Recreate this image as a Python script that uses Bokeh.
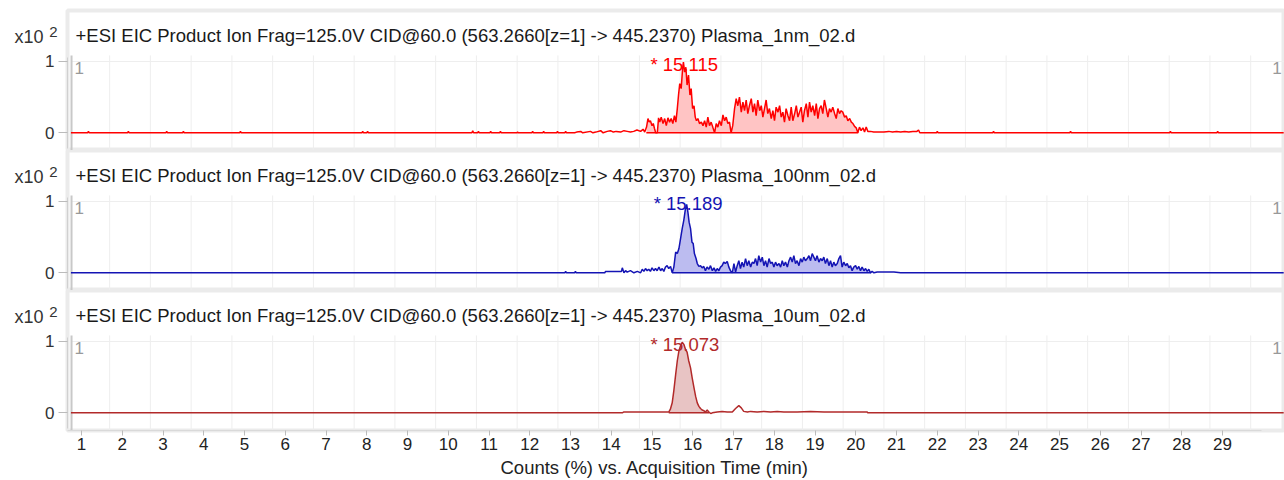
from bokeh.plotting import figure
from bokeh.layouts import column
from bokeh.models import Range1d, FixedTicker, Label, Title, LinearAxis
from bokeh.embed import file_html
from bokeh.resources import INLINE

FONT = "Liberation Sans"

# ---------------- data ----------------
x_ticks = [1, 2, 3, 4, 5, 6, 7, 8, 9, 10, 11, 12, 13, 14, 15, 16, 17, 18, 19, 20,
           21, 22, 23, 24, 25, 26, 27, 28, 29]
x_tick_labels = [str(k) for k in x_ticks]
y_ticks = [0, 1]

titles = [
    "+ESI EIC Product Ion Frag=125.0V CID@60.0 (563.2660[z=1] -> 445.2370) Plasma_1nm_02.d",
    "+ESI EIC Product Ion Frag=125.0V CID@60.0 (563.2660[z=1] -> 445.2370) Plasma_100nm_02.d",
    "+ESI EIC Product Ion Frag=125.0V CID@60.0 (563.2660[z=1] -> 445.2370) Plasma_10um_02.d",
]
peak_labels = ["* 15.115", "* 15.189", "* 15.073"]
x_label = "Counts (%) vs. Acquisition Time (min)"
scale_text = "x10"
scale_exp = "2"

# trace 1 (Plasma_1nm)
t1 = [0.74, 1.15, 1.17, 1.19, 2.13, 2.15, 2.17, 3.07, 3.09, 3.11,
      3.48, 3.50, 3.52, 4.88, 4.90, 4.92, 7.88, 7.90, 7.92, 8.00,
      8.02, 8.04, 10.58, 10.60, 10.62, 10.72, 10.74, 10.76, 11.02, 11.04,
      11.06, 11.26, 11.28, 11.30, 11.68, 11.70, 11.72, 12.05, 12.07, 12.09,
      12.32, 12.34, 12.36, 12.66, 12.68, 12.70, 12.86, 12.88, 12.90, 13.10,
      13.15, 13.25, 13.30, 13.49, 13.55, 13.62, 13.74, 13.80, 13.90, 13.98,
      14.05, 14.12, 14.23, 14.31, 14.39, 14.47, 14.55, 14.63, 14.72, 14.78,
      14.82,
      14.865, 14.90, 14.93, 14.96, 15.00, 15.03, 15.06, 15.09, 15.13, 15.16,
      15.19, 15.225, 15.27, 15.31, 15.35, 15.39, 15.43, 15.47, 15.51, 15.55,
      15.585, 15.62, 15.65, 15.68, 15.715, 15.75, 15.77, 15.80, 15.83, 15.86,
      15.895, 15.93, 15.96, 15.995, 16.03, 16.06, 16.09, 16.125, 16.165, 16.21,
      16.25, 16.29, 16.33, 16.37, 16.41, 16.45, 16.49, 16.535, 16.575, 16.615,
      16.655, 16.70, 16.74, 16.78, 16.82, 16.86, 16.90, 16.94, 16.98, 17.025,
      17.065, 17.105, 17.145, 17.19, 17.23, 17.27, 17.31, 17.35, 17.39, 17.435,
      17.475, 17.515, 17.555, 17.595, 17.64, 17.68, 17.72, 17.76, 17.80, 17.84,
      17.88, 17.925, 17.965, 18.005, 18.045, 18.09, 18.13, 18.17, 18.21, 18.25,
      18.29, 18.335, 18.375, 18.415, 18.455, 18.50, 18.54, 18.58, 18.62, 18.66,
      18.70, 18.74, 18.785, 18.825, 18.865, 18.905, 18.945, 18.99, 19.03, 19.07,
      19.11, 19.15, 19.19, 19.23, 19.275, 19.315, 19.355, 19.395, 19.435, 19.48,
      19.52, 19.56, 19.60, 19.64, 19.68, 19.725, 19.765, 19.805, 19.85, 19.89,
      19.93, 19.97, 20.01, 20.05, 20.09, 20.13, 20.175, 20.215, 20.255, 20.295,
      20.36, 20.44, 20.57, 20.69, 20.81,
      20.90, 21.00, 21.10, 21.20, 21.30, 21.40, 21.50, 21.54, 21.57, 21.98,
      22.00, 22.02, 23.36, 23.38, 23.40, 25.25, 25.27, 25.29, 27.70, 27.72,
      27.74, 28.86, 28.88, 28.90, 30.50]
v1 = [0, 0, 0.02, 0, 0, 0.02, 0, 0, 0.02, 0,
      0, 0.02, 0, 0, 0.02, 0, 0, 0.02, 0, 0,
      0.02, 0, 0, 0.03, 0, 0, 0.02, 0, 0, 0.02,
      0, 0, 0.02, 0, 0, 0.01, 0, 0, 0.02, 0,
      0, 0.02, 0, 0, 0.02, 0, 0, 0.02, 0, 0,
      0.01, 0.02, 0, 0.02, 0, 0.01, 0.03, 0, 0.02, 0.03,
      0.01, 0.02, 0.01, 0.03, 0.02, 0.01, 0.02, 0.04, 0.02, 0.05,
      0.01,
      0.08, 0.20, 0.15, 0.17, 0.10, 0.13, 0.06, 0.0, 0.0, 0.21,
      0.15, 0.22, 0.13, 0.20, 0.10, 0.21, 0.15, 0.20, 0.13, 0.24,
      0.15, 0.34, 0.53, 0.69, 0.62, 0.90, 0.99, 0.85, 0.92, 0.67,
      0.81, 0.53, 0.62, 0.34, 0.38, 0.22, 0.17, 0.20, 0.13, 0.15,
      0.10, 0.17, 0.08, 0.22, 0.10, 0.15, 0.08, 0.0, 0.13, 0.08,
      0.17, 0.10, 0.25, 0.17, 0.22, 0.13, 0.15, 0.0, 0.10, 0.34,
      0.48, 0.38, 0.50, 0.29, 0.43, 0.31, 0.46, 0.27, 0.38, 0.48,
      0.29, 0.41, 0.24, 0.46, 0.31, 0.38, 0.22, 0.34, 0.46, 0.27,
      0.34, 0.20, 0.31, 0.17, 0.36, 0.29, 0.38, 0.22, 0.29, 0.15,
      0.34, 0.24, 0.17, 0.36, 0.17, 0.27, 0.38, 0.22, 0.29, 0.36,
      0.15, 0.31, 0.41, 0.22, 0.43, 0.29, 0.38, 0.24, 0.41, 0.20,
      0.34, 0.38, 0.27, 0.46, 0.34, 0.22, 0.34, 0.29, 0.36, 0.27,
      0.20, 0.34, 0.27, 0.31, 0.29, 0.22, 0.24, 0.17, 0.20, 0.15,
      0.13, 0.09, 0.07, 0.0, 0.08, 0.03, 0.07, 0.01, 0.08, 0.02,
      0.02, 0.01, 0.01, 0.01, 0.02,
      0.01, 0.02, 0.01, 0.02, 0.01, 0.02, 0.02, 0.04, 0, 0,
      0.02, 0, 0, 0.02, 0, 0, 0.02, 0, 0, 0.02,
      0, 0, 0.02, 0, 0]

# trace 2 (Plasma_100nm)
t2 = [0.74, 12.86, 12.88, 12.90, 13.10, 13.12, 13.14, 13.84, 13.86, 14.25,
      14.27, 14.31, 14.35, 14.39, 14.47, 14.555, 14.64, 14.72, 14.76, 14.80,
      14.84, 14.88, 14.92, 14.96, 15.00, 15.045, 15.085, 15.125, 15.17, 15.21,
      15.25, 15.29, 15.33, 15.37, 15.41, 15.455, 15.495, 15.535, 15.58, 15.62,
      15.66, 15.70, 15.74, 15.78, 15.815, 15.85, 15.88, 15.91, 15.945, 15.98,
      16.01, 16.04, 16.08, 16.11, 16.15, 16.19,
      16.23, 16.27, 16.31, 16.35, 16.395, 16.435, 16.48, 16.52, 16.56, 16.60,
      16.64, 16.68, 16.72, 16.76, 16.80, 16.845, 16.885, 16.925, 16.97, 17.01,
      17.05, 17.09, 17.13, 17.17, 17.21, 17.25, 17.295, 17.335, 17.375, 17.42,
      17.46, 17.50, 17.54, 17.58, 17.62, 17.665, 17.705, 17.745, 17.785, 17.825,
      17.87, 17.91, 17.95, 17.99, 18.03, 18.07, 18.115, 18.155, 18.195, 18.235,
      18.275, 18.32, 18.36, 18.40, 18.44, 18.48, 18.52, 18.56, 18.605, 18.645,
      18.685, 18.725, 18.765, 18.81, 18.85, 18.89, 18.93, 18.97, 19.01, 19.05,
      19.095, 19.135, 19.175, 19.215, 19.255, 19.30, 19.34, 19.38, 19.42, 19.46,
      19.50, 19.545, 19.585, 19.625, 19.665, 19.705, 19.75, 19.79, 19.83, 19.87,
      19.91, 19.95, 19.995, 20.035, 20.075, 20.115, 20.155, 20.20, 20.24, 20.28,
      20.32, 20.36, 20.40, 20.445, 20.525, 20.935, 21.10, 30.50]
v2 = [0, 0, 0.02, 0, 0, 0.02, 0, 0, 0.02, 0.02,
      0.07, 0, 0.03, 0.01, 0.03, 0, 0.02, 0, 0.05, 0.02,
      0.06, 0.03, 0.05, 0.02, 0.07, 0.03, 0.06, 0.03, 0.08, 0.03,
      0.06, 0.02, 0.08, 0.10, 0.06, 0.09, 0.0, 0.08, 0.29, 0.27,
      0.34, 0.48, 0.62, 0.74, 0.88, 0.96, 0.85, 0.71, 0.62, 0.43,
      0.41, 0.27, 0.20, 0.13, 0.09, 0.10,
      0.07, 0.09, 0.03, 0.08, 0.05, 0.10, 0.03, 0.07, 0.02, 0.06,
      0.03, 0.08, 0.10, 0.15, 0.13, 0.16, 0.08, 0.03, 0.0, 0.13,
      0.01, 0.10, 0.17, 0.06, 0.15, 0.08, 0.20, 0.10, 0.17, 0.08,
      0.15, 0.13, 0.20, 0.10, 0.24, 0.15, 0.22, 0.10, 0.17, 0.08,
      0.20, 0.13, 0.15, 0.08, 0.15, 0.10, 0.13, 0.08, 0.17, 0.10,
      0.15, 0.08, 0.17, 0.22, 0.15, 0.24, 0.13, 0.17, 0.10, 0.20,
      0.15, 0.22, 0.17, 0.20, 0.24, 0.17, 0.27, 0.22, 0.17, 0.24,
      0.15, 0.20, 0.17, 0.22, 0.13, 0.20, 0.10, 0.17, 0.08, 0.15,
      0.10, 0.13, 0.20, 0.24, 0.08, 0.15, 0.10, 0.13, 0.07, 0.10,
      0.03, 0.08, 0.10, 0.05, 0.09, 0.03, 0.08, 0.03, 0.06, 0.02,
      0.05, 0.0, 0.02, 0.0, 0.01, 0.01, 0.0, 0]

# trace 3 (Plasma_10um)
t3 = [0.74, 14.27, 14.30, 15.41, 15.45, 15.495, 15.535, 15.58, 15.62, 15.66,
      15.70, 15.74, 15.78, 15.82, 15.86, 15.90, 15.945, 15.985, 16.03, 16.07,
      16.11, 16.15, 16.19, 16.23, 16.27, 16.31, 16.355, 16.395, 16.44, 16.48,
      16.60, 16.72, 16.845, 16.97, 17.05, 17.13, 17.19, 17.25, 17.34, 17.42,
      17.58, 17.745, 17.91, 18.07, 18.235, 18.56, 18.89, 19.22, 19.71, 20.28,
      20.30, 30.50]
v3 = [0, 0, 0.01, 0.01, 0.05, 0.14, 0.31, 0.54, 0.73, 0.87,
      0.94, 0.99, 0.96, 0.89, 0.85, 0.73, 0.63, 0.49, 0.35, 0.23,
      0.14, 0.09, 0.06, 0.04, 0.03, 0.01, 0.04, 0.01, -0.01, 0.0,
      0.01, 0.02, 0.01, 0.01, 0.06, 0.10, 0.07, 0.02, 0.01, 0.02,
      0.01, 0.02, 0.01, 0.02, 0.01, 0.01, 0.02, 0.01, 0.01, 0.01,
      0, 0]

# integrated (filled) peak windows
fill_windows = [(14.86, 20.06), (15.49, 20.37), (15.41, 16.40)]

traces = [(t1, v1), (t2, v2), (t3, v3)]
line_colors = ["#ff0000", "#1414b4", "#b22a2a"]
fill_colors = ["#ffc4c4", "#bcbcf0", "#e8c4c4"]

# ---------------- layout constants ----------------
X0, X1 = 0.656, 30.52
FRAME_W = 1217
grid_x = [1.69, 2.69, 3.69, 4.69, 5.69, 6.69, 7.69, 8.69, 9.69, 10.69,
          11.69, 12.69, 13.69, 14.69, 15.69, 16.69, 17.69, 18.69, 19.69, 20.69,
          21.69, 22.69, 23.69, 24.69, 25.69, 26.69, 27.69, 28.69, 29.69]
peak_label_x = [14.96, 15.04, 14.96]
peak_label_y = [0.96, 0.97, 0.955]


def hidden_line_axis(tick, label, standoff, size):
    ax = LinearAxis(ticker=FixedTicker(ticks=[tick]),
                    major_label_overrides={tick: label},
                    major_tick_out=0, major_tick_in=0,
                    minor_tick_out=0, minor_tick_in=0,
                    axis_line_color=None, major_tick_line_color=None,
                    minor_tick_line_color=None,
                    major_label_standoff=standoff,
                    major_label_text_font=FONT,
                    major_label_text_font_size=size,
                    major_label_text_color="#333333")
    return ax


figs = []
for i in range(3):
    last = (i == 2)
    p = figure(frame_width=FRAME_W, frame_height=140,
               x_range=Range1d(X0, X1), y_range=Range1d(-0.248, 1.715),
               output_backend="svg", toolbar_location=None, title=None,
               x_axis_location="below" if last else None,
               min_border_left=67, min_border_right=0,
               min_border_top=10 if i == 0 else 0,
               min_border_bottom=50 if last else 0,
               background_fill_color="white", border_fill_color="white")
    p.xgrid.visible = False
    p.ygrid.visible = False
    p.outline_line_color = "#ebebeb"
    p.outline_line_width = 4

    # grid-like guides
    n = len(grid_x)
    p.segment(x0=grid_x, y0=[-0.4] * n, x1=grid_x, y1=[1.085] * n,
              line_color="#eeeeee", line_width=1)
    p.segment(x0=[0.755], y0=[1], x1=[31], y1=[1], line_color="#eeeeee", line_width=1)
    p.segment(x0=[0.755], y0=[-0.4], x1=[0.755], y1=[1.085], line_color="#c8c8c8", line_width=2)

    # y axis
    ya = p.yaxis[0]
    ya.ticker = FixedTicker(ticks=y_ticks)
    ya.major_label_text_font = FONT
    ya.major_label_text_font_size = "17px"
    ya.major_label_text_color = "#333333"
    ya.major_tick_out = 9
    ya.major_tick_in = 0
    ya.minor_tick_line_color = None
    ya.axis_line_color = "#d0d0d0"
    ya.major_tick_line_color = "#bbbbbb"
    ya.major_label_standoff = 4
    ya.bounds = (-0.22, 1.06)
    # scale factor "x10 2" shown as extra unlined axes
    p.add_layout(hidden_line_axis(1.42, scale_exp, -15, "15px"), "left")
    p.add_layout(hidden_line_axis(1.337, scale_text, -1, "18px"), "left")

    t, v = traces[i]
    lo, hi = fill_windows[i]
    ft = [a for a, b in zip(t, v) if lo <= a <= hi]
    fv = [max(b, 0) for a, b in zip(t, v) if lo <= a <= hi]
    p.varea(x=ft, y1=[0] * len(ft), y2=fv, fill_color=fill_colors[i])
    p.line(x=t, y=v, line_color=line_colors[i], line_width=1.5)
    p.line(x=[lo, hi], y=[0, 0], line_color=line_colors[i], line_width=1.5)

    # texts
    p.add_layout(Label(x=0.853, y=1.37, text=titles[i], text_font=FONT,
                       text_font_size="18.5px", text_color="#1a1a1a", text_baseline="middle"))
    p.add_layout(Label(x=0.83, y=0.915, text="1", text_font=FONT,
                       text_font_size="17px", text_color="#999999", text_baseline="middle"))
    p.add_layout(Label(x=30.22, y=0.915, text="1", text_font=FONT,
                       text_font_size="17px", text_color="#999999", text_baseline="middle"))
    p.add_layout(Label(x=peak_label_x[i], y=peak_label_y[i], text=peak_labels[i], text_font=FONT,
                       text_font_size="18.5px", text_color=line_colors[i], text_baseline="middle"))

    if last:
        xa = p.xaxis[0]
        xa.ticker = FixedTicker(ticks=x_ticks)
        xa.major_label_overrides = {k: s for k, s in zip(x_ticks, x_tick_labels)}
        xa.major_label_text_font = FONT
        xa.major_label_text_font_size = "17px"
        xa.major_label_text_color = "#222222"
        xa.major_tick_out = 5
        xa.major_tick_in = 0
        xa.minor_tick_line_color = None
        xa.axis_line_color = "#d9d9d9"
        xa.major_tick_line_color = "#bbbbbb"
        xa.major_label_standoff = 2
        xa.bounds = (0.66, 29.95)
        p.add_layout(Title(text=x_label, align="left", offset=433, standoff=5,
                           text_font=FONT, text_font_size="18.5px", text_font_style="normal",
                           text_color="#222222"), "below")
    figs.append(p)

layout = column(*figs, spacing=0)
open("out.html", "w").write(file_html(layout, INLINE))
